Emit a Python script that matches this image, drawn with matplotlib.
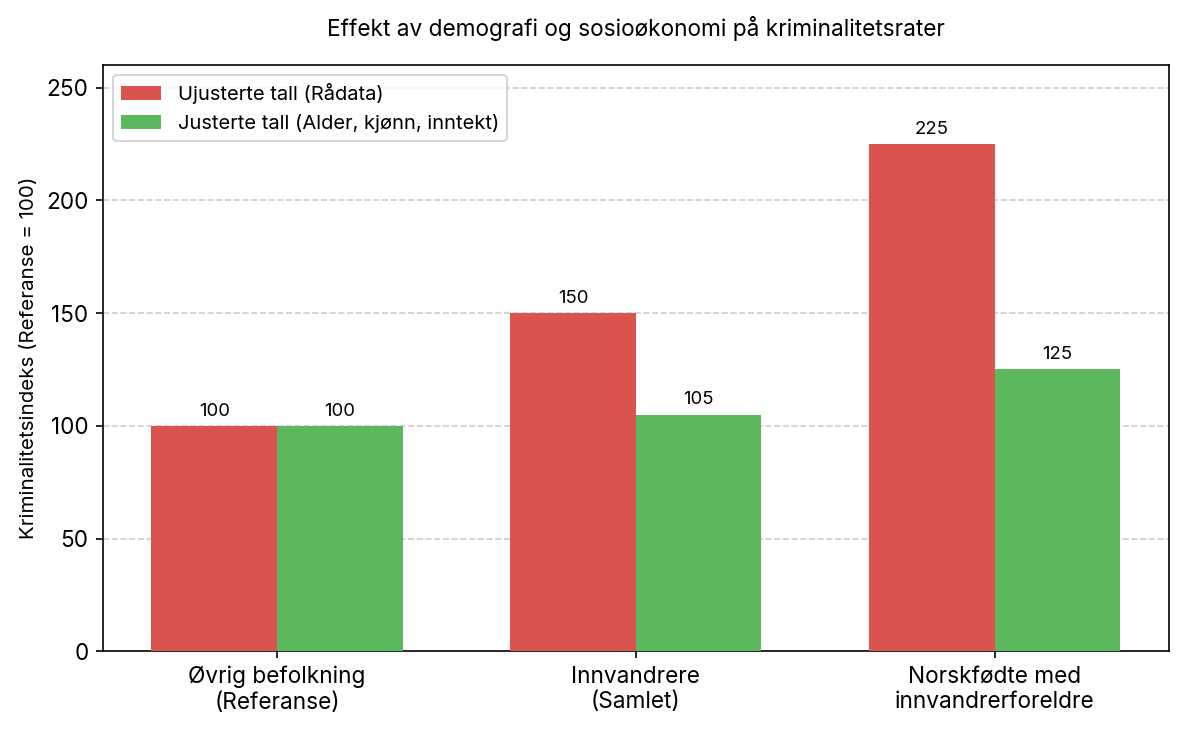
import matplotlib
matplotlib.use("Agg")
import matplotlib.pyplot as plt
import numpy as np

plt.rcParams['font.family'] = ['Inter', 'DejaVu Sans']

categories = ['Øvrig befolkning\n(Referanse)', 'Innvandrere\n(Samlet)', 'Norskfødte med\ninnvandrerforeldre']
raw_vals = [100, 150, 225]
adj_vals = [100, 105, 125]
raw_label = 'Ujusterte tall (Rådata)'
adj_label = 'Justerte tall (Alder, kjønn, inntekt)'

fig, ax = plt.subplots(figsize=(8, 4.94), dpi=148)
x = np.arange(len(categories))
w = 0.35

b1 = ax.bar(x - w/2, raw_vals, w, color='#d9534f', label=raw_label, zorder=3)
b2 = ax.bar(x + w/2, adj_vals, w, color='#5cb85c', label=adj_label, zorder=3)

for bars in (b1, b2):
    for b in bars:
        ax.annotate(f'{b.get_height():.0f}', (b.get_x() + b.get_width()/2, b.get_height()),
                    xytext=(0, 3), textcoords='offset points', ha='center', va='bottom', fontsize=9)

ax.set_xticks(x)
ax.set_xticklabels(categories, fontsize=11)
ax.tick_params(axis='y', labelsize=11)
ax.set_ylim(0, 260)
ax.set_ylabel('Kriminalitetsindeks (Referanse = 100)', fontsize=10)
ax.set_title('Effekt av demografi og sosioøkonomi på kriminalitetsrater', fontsize=11, pad=14)
ax.yaxis.grid(True, linestyle='--', color='#cccccc', zorder=0)
ax.legend(loc='upper left', fontsize=9.8)

fig.subplots_adjust(left=0.087, right=0.987, top=0.911, bottom=0.109)
fig.savefig('out.png')
